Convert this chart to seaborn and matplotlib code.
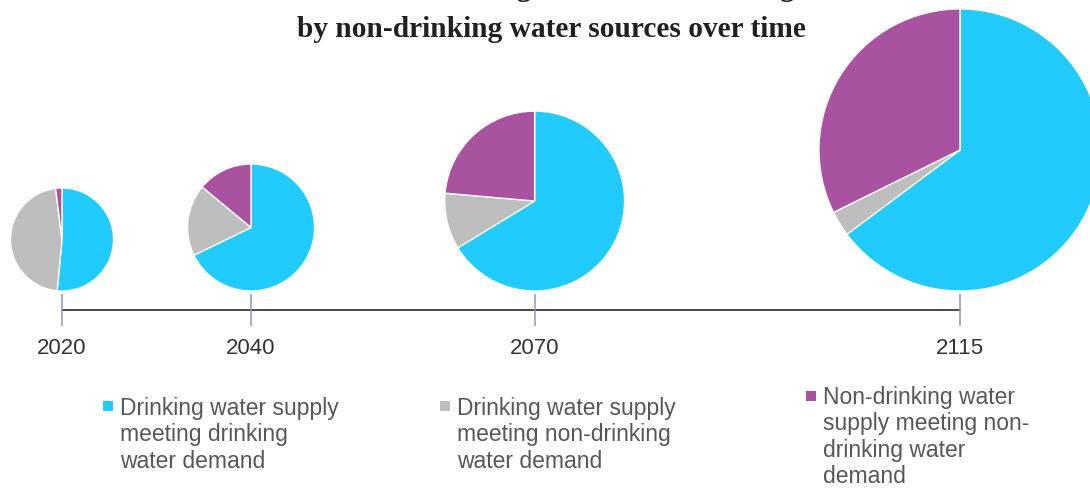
import matplotlib
matplotlib.use("Agg")
import matplotlib.pyplot as plt
import seaborn as sns
import numpy as np
from matplotlib.patches import Rectangle

# ---------------- data ----------------
years = [2020, 2040, 2070, 2115]
year_labels = ["2020", "2040", "2070", "2115"]
drinking_meets_drinking = [51.5, 67.8, 66.3, 64.8]
drinking_meets_nondrinking = [46.5, 18.2, 10.1, 2.9]
nondrinking_meets_nondrinking = [2.0, 14.0, 23.6, 32.3]
relative_total_demand = [1.0, 1.52, 3.05, 7.5]
series_labels = [
    "Drinking water supply\nmeeting drinking\nwater demand",
    "Drinking water supply\nmeeting non-drinking\nwater demand",
    "Non-drinking water\nsupply meeting non-\ndrinking water\ndemand",
]
title_line1 = "Share of non-drinking water demand being met"
title_line2 = "by non-drinking water sources over time"

# ---------------- style ----------------
sns.set_theme(style="white")
plt.rcParams["font.family"] = ["Liberation Sans", "DejaVu Sans"]
palette = ["#22CBFE", "#BEBEBE", "#A9529F"]

W, H = 1090, 489
fig = plt.figure(figsize=(W / 100, H / 100), dpi=100)
ax = fig.add_axes([0, 0, 1, 1])

# data coordinates: x in years, y in same units (equal aspect)
ppy = (960 - 62) / (years[-1] - years[0])  # pixels per year
x_lo = years[0] - 62 / ppy
x_hi = x_lo + W / ppy
y_hi = 311 / ppy
y_lo = y_hi - H / ppy

base_r = 51.5 / ppy
gap = 19 / ppy
for i, yr in enumerate(years):
    r = base_r * np.sqrt(relative_total_demand[i])
    vals = [drinking_meets_drinking[i], drinking_meets_nondrinking[i],
            nondrinking_meets_nondrinking[i]]
    ax.pie(vals, colors=palette, startangle=90, counterclock=False,
           center=(yr, gap + r), radius=r, frame=True,
           wedgeprops=dict(edgecolor="white", linewidth=1.0))

# timeline
ax.plot([years[0], years[-1]], [0, 0], color="#3c3c3c", lw=1.3, zorder=1)
tick_h = 16 / ppy
ax.vlines(years, -tick_h, tick_h, color="#8f97b3", lw=1.1, zorder=1)
for yr, lab in zip(years, year_labels):
    ax.text(yr, -38 / ppy, lab, ha="center", va="center", fontsize=16,
            color="#333333")

ax.set_xlim(x_lo, x_hi)
ax.set_ylim(y_lo, y_hi)
ax.set_aspect("equal", adjustable="box")
ax.axis("off")

# legend (manual, three columns)
leg_pos = [(103, 402, 120, 397), (440, 402, 457, 397), (806, 392, 823, 386)]
for (sx, sy, tx, ty), lab, col in zip(leg_pos, series_labels, palette):
    fig.patches.append(Rectangle((sx / W, 1 - (sy + 10) / H), 10 / W, 10 / H,
                                 transform=fig.transFigure, facecolor=col,
                                 edgecolor="none"))
    fig.text(tx / W, 1 - ty / H, lab, ha="left", va="top", fontsize=16.5,
             color="#575757", linespacing=1.19)

# title
fig.text(551 / W, 1 - 37 / H, title_line2, ha="center", va="baseline",
         fontsize=21.2, fontweight="bold", family="Liberation Serif",
         color="#231f20")
fig.text(551 / W, 1 + 4 / H, title_line1, ha="center", va="baseline",
         fontsize=21.2, fontweight="bold", family="Liberation Serif",
         color="#231f20")

fig.savefig("out.png", dpi=100)
